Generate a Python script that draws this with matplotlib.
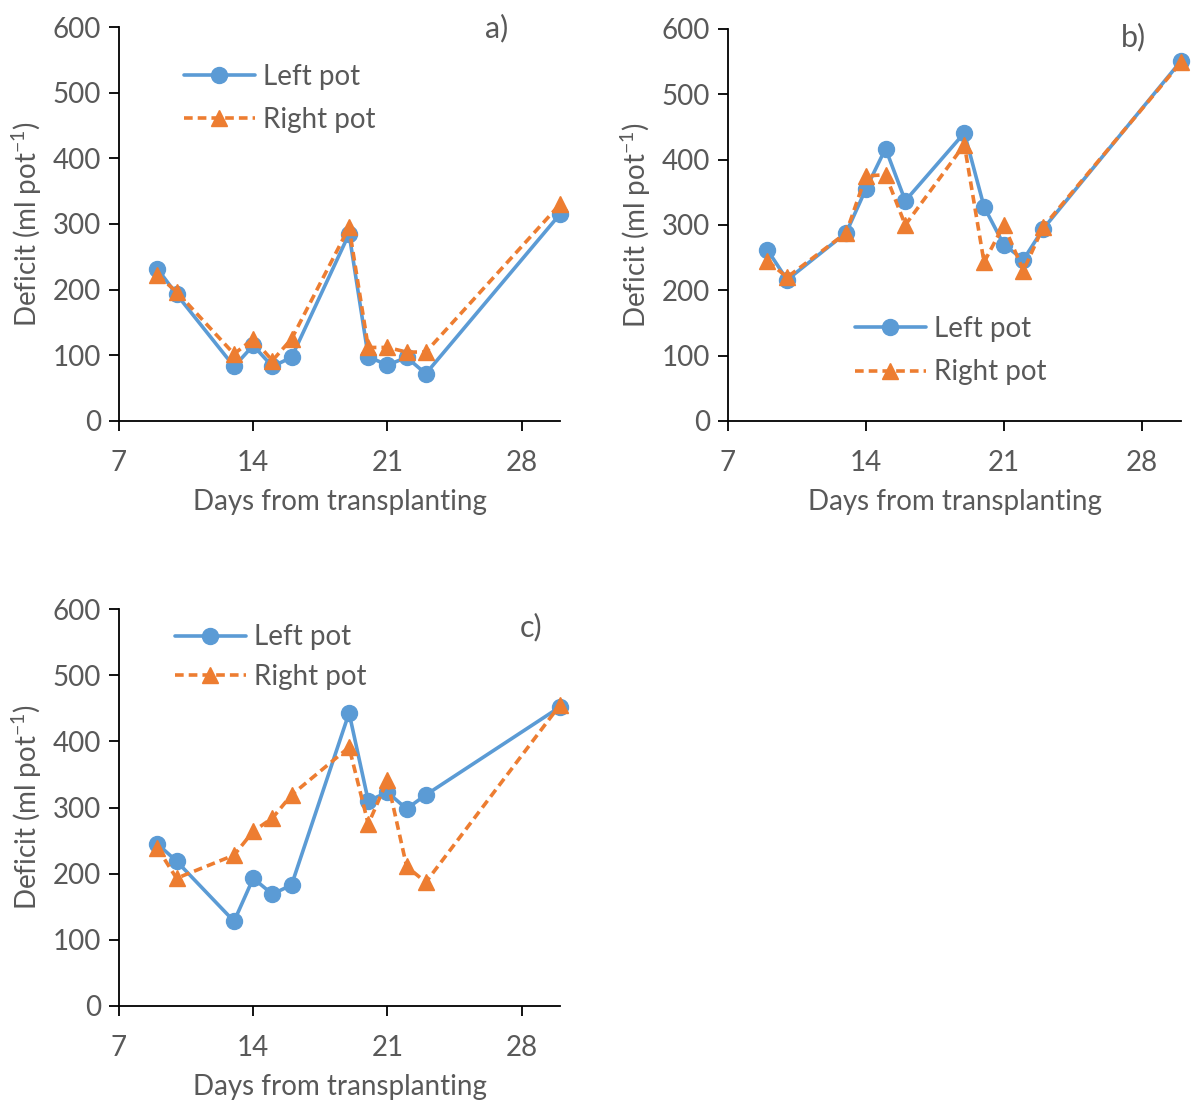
import matplotlib
matplotlib.use("Agg")
import matplotlib.pyplot as plt

plt.rcParams['font.family'] = ['Lato', 'DejaVu Sans']
plt.rcParams['mathtext.fontset'] = 'custom'
plt.rcParams['mathtext.rm'] = 'Lato'

days = [9, 10, 13, 14, 15, 16, 19, 20, 21, 22, 23, 30]

left_a = [232, 193, 83, 115, 83, 97, 285, 98, 85, 97, 72, 315]
right_a = [222, 197, 102, 125, 92, 125, 295, 112, 112, 105, 105, 330]

left_b = [262, 216, 288, 355, 417, 337, 441, 328, 270, 247, 294, 551]
right_b = [245, 220, 288, 375, 377, 300, 423, 243, 300, 230, 297, 549]

left_c = [245, 219, 128, 193, 169, 183, 443, 310, 323, 298, 319, 452]
right_c = [239, 193, 228, 264, 284, 319, 391, 275, 341, 211, 187, 455]

xticks = [7, 14, 21, 28]
yticks = [0, 100, 200, 300, 400, 500, 600]
panel_labels = ['a)', 'b)', 'c)']
series_names = ['Left pot', 'Right pot']

BLUE = '#5B9BD5'
ORANGE = '#ED7D31'
GRAY = '#595959'
W, H = 1192, 1102
FS = 20

fig = plt.figure(figsize=(W / 100, H / 100), dpi=100)

def px_axes(x0, x1, y_top, y_bot):
    return fig.add_axes([x0 / W, 1 - y_bot / H, (x1 - x0) / W, (y_bot - y_top) / H])

panels = [
    (px_axes(119, 560, 27, 421), left_a, right_a, (0.147, 0.8185), 0.62, (0.857, 0.997)),
    (px_axes(728, 1181, 29, 421), left_b, right_b, (0.280, 0.179), 0.62, (0.894, 0.98)),
    (px_axes(119, 560, 609, 1006), left_c, right_c, (0.127, 0.879), 0.48, (0.934, 0.955)),
]

for i, (ax, l, r, legpos, lsp, labpos) in enumerate(panels):
    ax.plot(days, l, color=BLUE, lw=2.6, marker='o', ms=11.5, label=series_names[0],
            solid_capstyle='round', clip_on=False)
    ax.plot(days, r, color=ORANGE, lw=2.6, marker='^', ms=11.5, label=series_names[1],
            dashes=(2.4, 1.4), clip_on=False)
    ax.set_xlim(7, 30)
    ax.set_ylim(0, 600)
    ax.set_xticks(xticks)
    ax.set_yticks(yticks)
    for s in ['top', 'right']:
        ax.spines[s].set_visible(False)
    for s in ['left', 'bottom']:
        ax.spines[s].set_linewidth(1.3)
        ax.spines[s].set_color('black')
    ax.tick_params(axis='both', direction='out', length=7, width=1.3, color='black',
                   labelsize=FS, labelcolor=GRAY)
    ax.tick_params(axis='x', pad=14)
    ax.tick_params(axis='y', pad=6)
    ax.set_xlabel('Days from transplanting', fontsize=FS, color=GRAY, labelpad=9)
    ax.set_ylabel(r'Deficit (ml pot$^{\mathregular{-1}}$)', fontsize=FS, color=GRAY, labelpad=6)
    leg = ax.legend(loc='center left', bbox_to_anchor=legpos, frameon=False, fontsize=FS,
                    handlelength=2.55, handletextpad=0.3, labelspacing=lsp,
                    borderaxespad=0, borderpad=0)
    for t in leg.get_texts():
        t.set_color(GRAY)
    ax.text(labpos[0], labpos[1], panel_labels[i], transform=ax.transAxes, fontsize=FS + 2,
            color=GRAY, ha='center', va='center')

fig.savefig('out.png', dpi=100)
